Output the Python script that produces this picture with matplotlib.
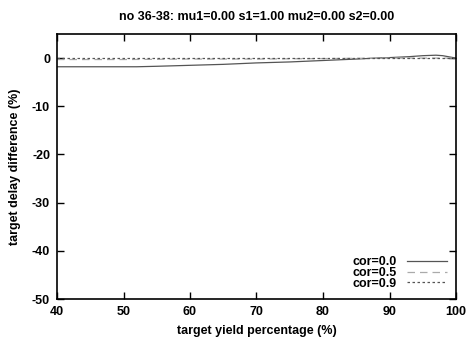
import matplotlib
matplotlib.use("Agg")
import matplotlib.pyplot as plt

plt.rcParams['font.family'] = ['Liberation Sans', 'DejaVu Sans']
plt.rcParams['font.weight'] = 'bold'
plt.rcParams['axes.unicode_minus'] = False

# target yield percentage
x0 = [40, 45, 50, 52, 55, 60, 65, 70, 75, 80, 85, 88, 90, 93, 95, 97, 98, 100]
# cor=0.0
y0 = [-1.8, -1.8, -1.8, -1.8, -1.7, -1.5, -1.3, -1.0, -0.8, -0.5, -0.2, 0.0, 0.1, 0.3, 0.5, 0.6, 0.5, 0.0]
x1 = [40, 50, 60, 70, 80, 90, 100]
# cor=0.5
y1 = [-0.3, -0.3, -0.2, -0.2, -0.1, 0.0, 0.0]
# cor=0.9
y2 = [0.0, 0.0, 0.0, 0.0, 0.0, 0.0, 0.0]

xticks = [40, 50, 60, 70, 80, 90, 100]
yticks = [-50, -40, -30, -20, -10, 0]

fig = plt.figure(figsize=(4.67, 3.43), dpi=100)
ax = fig.add_axes([57/467, 1 - 299/343, 399/467, 265/343])

ax.plot(x0, y0, color='#555555', lw=0.9, label='cor=0.0')
ax.plot(x1, y1, color='#aaaaaa', lw=0.9, dashes=(6, 4), label='cor=0.5')
ax.plot(x1, y2, color='#555555', lw=0.9, dashes=(2, 2), label='cor=0.9')

ax.set_xlim(40, 100)
ax.set_ylim(-50, 5)
ax.set_xticks(xticks)
ax.set_yticks(yticks)
ax.tick_params(direction='in', top=True, right=True, length=5, width=1, labelsize=9, pad=5)
for s in ax.spines.values():
    s.set_linewidth(1.2)

ax.set_title('no 36-38: mu1=0.00 s1=1.00 mu2=0.00 s2=0.00', fontsize=9, fontweight='bold', pad=10)
ax.set_xlabel('target yield percentage (%)', fontsize=9, fontweight='bold', labelpad=5)
ax.set_ylabel('target delay difference (%)', fontsize=9, fontweight='bold', labelpad=8)

leg = ax.legend(loc='lower right', frameon=False, fontsize=9, markerfirst=False,
                handlelength=3.2, labelspacing=-0.1, borderaxespad=0.15, handletextpad=0.8,
                borderpad=0.6)
for t in leg.get_texts():
    t.set_fontweight('bold')

fig.savefig('out.png', dpi=100)
